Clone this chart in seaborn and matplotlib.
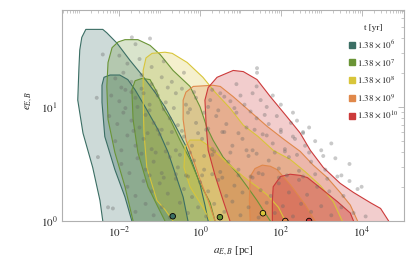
import numpy as np
import pandas as pd
import matplotlib
matplotlib.use("Agg")
import matplotlib.pyplot as plt
import matplotlib.ticker as mticker
from matplotlib.lines import Line2D
import seaborn as sns

# Times after birth and their colours
times = ["6", "7", "8", "9", "10"]
colors = ["#3b6e64", "#6a9436", "#d8c53a", "#e0884a", "#cc3a3a"]

# Contour outlines, in log10(a [pc]) and log10(e)
outer_la = [
    [-2.41, -2.48, -2.66, -2.90, -3.03, -3.00, -2.98, -2.93, -2.83, -2.68, -2.41, -2.31, -2.06, -1.74, -1.44, -1.12, -0.87, -0.62, -0.37, -0.17, 0.00, 0.12, 0.20],
    [-1.66, -1.86, -2.11, -2.28, -2.31, -2.28, -2.18, -2.03, -1.86, -1.54, -1.24, -0.99, -0.67, -0.25, 0.00, 0.17, 0.32, 0.57, 0.92, 1.17, 1.41, 1.61, 1.74],
    [-0.67, -0.87, -1.07, -1.32, -1.39, -1.41, -1.41, -1.34, -1.19, -0.87, -0.69, -0.32, 0.07, 0.37, 0.74, 1.07, 1.44, 1.81, 2.23, 2.61, 2.98, 3.30, 3.52],
    [0.37, 0.20, 0.00, -0.17, -0.35, -0.42, -0.42, -0.35, -0.17, 0.32, 0.50, 0.82, 1.24, 1.66, 2.06, 2.48, 2.80, 3.15, 3.47, 3.72, 3.90],
    [0.74, 0.57, 0.37, 0.20, 0.15, 0.12, 0.20, 0.42, 0.82, 1.07, 1.41, 1.74, 2.16, 2.48, 2.73, 3.05, 3.47, 3.80, 4.22, 4.47, 4.67],
]
outer_le = [
    [0, 0.18, 0.47, 0.77, 1.06, 1.35, 1.50, 1.61, 1.68, 1.68, 1.68, 1.65, 1.56, 1.41, 1.28, 1.13, 1.00, 0.84, 0.67, 0.49, 0.32, 0.14, 0],
    [0, 0.30, 0.60, 0.89, 1.18, 1.39, 1.52, 1.57, 1.59, 1.59, 1.54, 1.46, 1.32, 1.18, 1.00, 0.82, 0.71, 0.56, 0.42, 0.30, 0.18, 0.07, 0],
    [0, 0.10, 0.18, 0.47, 0.77, 1.06, 1.32, 1.43, 1.47, 1.48, 1.47, 1.39, 1.26, 1.13, 0.99, 0.84, 0.74, 0.62, 0.54, 0.43, 0.31, 0.17, 0],
    [0, 0.18, 0.36, 0.54, 0.71, 0.89, 1.06, 1.13, 1.18, 1.19, 1.18, 1.09, 0.96, 0.83, 0.72, 0.61, 0.49, 0.38, 0.25, 0.14, 0],
    [0, 0.18, 0.40, 0.62, 0.84, 1.06, 1.17, 1.26, 1.32, 1.31, 1.24, 1.09, 0.91, 0.77, 0.62, 0.47, 0.33, 0.25, 0.16, 0.11, 0],
]
inner_la = [
    [-1.69, -1.86, -2.11, -2.36, -2.43, -2.43, -2.38, -2.23, -1.99, -1.79, -1.61, -1.36, -1.04, -0.79, -0.60, -0.42, -0.30],
    [-0.87, -1.04, -1.29, -1.54, -1.66, -1.69, -1.61, -1.44, -1.24, -1.07, -0.92, -0.74, -0.50, -0.25, 0.00, 0.25, 0.37],
    [0.25, 0.07, -0.25, -0.40, -0.37, -0.25, 0.00, 0.25, 0.67, 1.07, 1.41, 1.66, 1.94, 2.11],
    [1.24, 1.22, 1.24, 1.36, 1.54, 1.74, 1.91, 2.23, 2.61, 2.85],
    [1.79, 1.79, 1.81, 1.99, 2.23, 2.48, 2.66, 2.98, 3.40, 3.72, 3.80],
]
inner_le = [
    [0, 0.21, 0.45, 0.74, 1.04, 1.19, 1.26, 1.28, 1.28, 1.24, 1.15, 1.00, 0.80, 0.60, 0.40, 0.21, 0],
    [0, 0.12, 0.30, 0.60, 0.89, 1.15, 1.23, 1.25, 1.24, 1.13, 0.99, 0.89, 0.71, 0.54, 0.33, 0.16, 0],
    [0, 0.12, 0.30, 0.47, 0.65, 0.71, 0.71, 0.65, 0.51, 0.39, 0.30, 0.23, 0.12, 0],
    [0, 0.18, 0.39, 0.46, 0.49, 0.48, 0.45, 0.32, 0.14, 0],
    [0, 0.18, 0.30, 0.39, 0.41, 0.40, 0.38, 0.29, 0.17, 0.07, 0],
]

# Highlighted binaries (one per time)
mark_a = [0.21, 3.1, 36.0, 129.0, 500.0]
mark_e = [1.10, 1.08, 1.17, 1.0, 1.0]

# Background sample of binaries, log10 a and log10 e
pts_la = [-1.69, -1.24, -2.41, -2.56, 1.41, 1.41, -2.28, -2.16, -2.53,
          -2.0, -1.8, -1.5, -1.2, -0.9, -1.6,
          -2.1, -1.9, -1.7, -1.45, -1.2, -0.95, -0.7, -0.4, 0.3, 0.9, 1.4, 1.8,
          -2.2, -2.0, -1.85, -1.6, -1.4, -1.25, -1.05, -0.85, -0.6, -0.35, -0.1, 0.2, 0.5, 0.75, 1.1, 1.5, 2.0, 2.3,
          -2.25, -2.05, -1.9, -1.7, -1.5, -1.35, -1.15, -0.95, -0.75, -0.55, -0.3, -0.1, 0.15, 0.4, 0.65, 0.9, 1.15, 1.4, 1.7, 2.0, 2.4, 2.7,
          -2.1, -1.95, -1.8, -1.6, -1.4, -1.2, -1.0, -0.8, -0.6, -0.4, -0.2, 0.05, 0.3, 0.55, 0.8, 1.05, 1.3, 1.55, 1.8, 2.1, 2.35, 2.6, 3.0,
          -1.95, -1.75, -1.55, -1.35, -1.15, -0.95, -0.75, -0.55, -0.35, -0.15, 0.1, 0.3, 0.5, 0.7, 0.95, 1.2, 1.45, 1.7, 1.95, 2.2, 2.45, 2.75, 3.1, 3.5,
          -1.8, -1.6, -1.4, -1.2, -1.0, -0.8, -0.6, -0.4, -0.2, 0.0, 0.2, 0.45, 0.65, 0.85, 1.05, 1.3, 1.5, 1.75, 1.95, 2.2, 2.45, 2.65, 2.9, 3.2, 3.55, 3.9,
          -1.6, -1.35, -1.15, -0.95, -0.75, -0.5, -0.3, -0.05, 0.15, 0.35, 0.6, 0.8, 1.0, 1.2, 1.45, 1.65, 1.85, 2.05, 2.3, 2.5, 2.75, 3.0, 3.25, 3.5, 3.8, 4.1,
          -1.95, -1.7, -1.45, -1.1, -0.8, -0.45, -0.15, 0.25, 0.6, 1.0, 1.3, 1.65,
          -1.85, -1.55, -1.25, -0.9, -0.65, -0.25, 0.1, 0.45, 0.85, 1.25, 1.6, 1.9, 2.25, 2.55,
          -1.65, -1.3, -1.05, -0.7, -0.45, -0.05, 0.2, 0.6, 0.95, 1.35, 1.65, 2.0, 2.3, 2.55, 2.85, 3.25,
          -1.45, -1.1, -0.85, -0.5, -0.25, 0.1, 0.35, 0.75, 1.15, 1.4, 1.85, 2.1, 2.4, 2.7, 3.05, 3.35, 3.7,
          -1.25, -0.9, -0.6, -0.3, 0.05, 0.3, 0.55, 0.95, 1.25, 1.55, 1.95, 2.15, 2.55, 2.85, 3.15, 3.4, 3.7, 4.0]
pts_le = [1.61, 1.60, 1.46, 1.08, 1.34, 1.30, 0.12, 0.11, 0.56,
          1.45, 1.38, 1.42, 1.35, 1.40, 1.55,
          1.25, 1.30, 1.22, 1.28, 1.20, 1.26, 1.22, 1.30, 1.15, 1.20, 1.18, 1.10,
          1.10, 1.05, 1.15, 1.08, 1.12, 1.02, 1.10, 1.04, 1.12, 1.02, 1.08, 1.00, 1.12, 1.05, 1.02, 1.06, 1.02, 0.95,
          0.92, 0.85, 0.95, 0.88, 0.82, 0.93, 0.86, 0.80, 0.90, 0.84, 0.95, 0.86, 0.80, 0.92, 0.85, 0.95, 0.82, 0.90, 0.85, 0.80, 0.88, 0.82,
          0.70, 0.62, 0.75, 0.66, 0.72, 0.63, 0.76, 0.68, 0.62, 0.74, 0.66, 0.72, 0.63, 0.78, 0.66, 0.72, 0.62, 0.76, 0.68, 0.63, 0.72, 0.66, 0.62,
          0.50, 0.42, 0.55, 0.45, 0.52, 0.42, 0.56, 0.47, 0.40, 0.53, 0.45, 0.58, 0.43, 0.52, 0.45, 0.57, 0.42, 0.53, 0.46, 0.56, 0.44, 0.52, 0.45, 0.40,
          0.30, 0.22, 0.35, 0.26, 0.33, 0.24, 0.37, 0.28, 0.21, 0.34, 0.26, 0.36, 0.22, 0.31, 0.25, 0.38, 0.27, 0.22, 0.33, 0.25, 0.36, 0.23, 0.30, 0.26, 0.22, 0.28,
          0.08, 0.15, 0.05, 0.12, 0.03, 0.16, 0.07, 0.12, 0.04, 0.15, 0.08, 0.17, 0.05, 0.12, 0.03, 0.16, 0.07, 0.13, 0.04, 0.15, 0.08, 0.13, 0.05, 0.12, 0.07, 0.04,
          1.17, 1.13, 1.16, 1.14, 1.17, 1.16, 1.13, 1.06, 1.09, 1.10, 1.12, 1.00,
          0.99, 1.00, 0.97, 0.98, 0.99, 0.98, 0.95, 0.97, 0.99, 0.96, 0.93, 0.92, 0.86, 0.78,
          0.79, 0.77, 0.80, 0.78, 0.79, 0.77, 0.81, 0.78, 0.77, 0.80, 0.75, 0.78, 0.74, 0.77, 0.70, 0.68,
          0.59, 0.60, 0.61, 0.58, 0.60, 0.57, 0.61, 0.60, 0.62, 0.59, 0.60, 0.61, 0.58, 0.60, 0.57, 0.55, 0.50,
          0.40, 0.38, 0.41, 0.39, 0.40, 0.41, 0.38, 0.40, 0.39, 0.41, 0.38, 0.40, 0.39, 0.41, 0.37, 0.39, 0.35, 0.30]

plt.rcParams["mathtext.fontset"] = "stix"
sns.set_style("white")
plt.rcParams["font.family"] = ["Liberation Serif", "DejaVu Serif"]

fig = plt.figure(figsize=(4.15, 2.64), dpi=100)
ax = fig.add_axes([62 / 415, 1 - 221 / 264, 342 / 415, 211 / 264])

for i, c in enumerate(colors):
    for la, le, alpha in [(outer_la[i], outer_le[i], 0.25), (inner_la[i], inner_le[i], 0.35)]:
        xa = 10 ** np.array(la)
        ye = 10 ** np.array(le)
        ax.fill(xa, ye, facecolor=c, alpha=alpha, edgecolor="none", zorder=2)
        ax.plot(xa, ye, color=c, lw=0.8, zorder=3)

# sample points sit on top of the shaded regions
pts = pd.DataFrame({"a": 10 ** np.array(pts_la), "e": 10 ** np.array(pts_le)})
sns.scatterplot(data=pts, x="a", y="e", color="#666666", alpha=0.35, s=8,
                edgecolor="none", ax=ax, zorder=4)

marks = pd.DataFrame({"a": mark_a, "e": mark_e, "t": times})
sns.scatterplot(data=marks, x="a", y="e", hue="t", palette=colors, s=16,
                edgecolor="black", linewidth=0.6, legend=False, ax=ax, zorder=5)

ax.set_xscale("log")
ax.set_yscale("log")
ax.set_xlim(10 ** -3.42, 10 ** 5.05)
ax.set_ylim(1, 10 ** 1.85)

ax.xaxis.set_major_locator(mticker.FixedLocator([1e-2, 1e0, 1e2, 1e4]))
ax.xaxis.set_minor_locator(mticker.LogLocator(base=10, subs=np.arange(1, 10), numticks=20))
ax.xaxis.set_major_formatter(mticker.FuncFormatter(lambda v, p: r"$10^{%d}$" % round(np.log10(v))))
ax.xaxis.set_minor_formatter(mticker.NullFormatter())
ax.yaxis.set_major_locator(mticker.LogLocator(base=10))
ax.yaxis.set_minor_locator(mticker.LogLocator(base=10, subs=np.arange(2, 10)))
ax.yaxis.set_major_formatter(mticker.FuncFormatter(lambda v, p: r"$10^{%d}$" % round(np.log10(v))))
ax.yaxis.set_minor_formatter(mticker.NullFormatter())

frame = "#b0b0b0"
for s in ax.spines.values():
    s.set_color(frame)
    s.set_linewidth(0.8)
ax.tick_params(which="both", direction="in", top=True, right=True, color=frame,
               labelsize=8, pad=3)
ax.tick_params(which="major", length=4, width=0.6)
ax.tick_params(which="minor", length=2, width=0.5)

ax.set_xlabel(r"$a_{E,B}$ [pc]", fontsize=8, labelpad=3)
ax.set_ylabel(r"$e_{E,B}$", fontsize=8, labelpad=4)
ax.yaxis.set_label_coords(-0.08, 0.57)

handles = [Line2D([], [], marker="s", ls="none", color=c, markersize=4) for c in colors]
labels = [r"$1.38\times10^{%s}$" % t for t in times]
leg = ax.legend(handles, labels, title="t [yr]", loc="upper right",
                bbox_to_anchor=(1.0, 0.96), frameon=False, fontsize=6.5,
                title_fontsize=6.5, handletextpad=0.1, labelspacing=0.75,
                borderaxespad=0.2, handlelength=1.0)

fig.savefig("out.png", dpi=100)
